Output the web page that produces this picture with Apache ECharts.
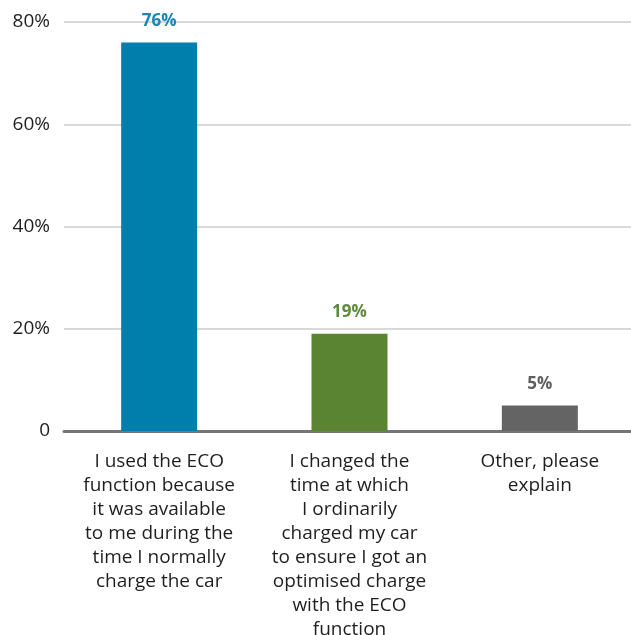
<!DOCTYPE html>
<html>
<head>
<meta charset="utf-8">
<script src="https://cdn.jsdelivr.net/npm/echarts@6/dist/echarts.min.js"></script>
<style>
  html, body { margin: 0; padding: 0; background: #fff; }
  #chart { width: 631px; height: 635px; }
</style>
</head>
<body>
<div id="chart"></div>
<script>
// Reasons for using the ECO charging function (share of respondents)
const categories = [
  'I used the ECO\nfunction because\nit was available\nto me during the\ntime I normally\ncharge the car',
  'I changed the\ntime at which\nI ordinarily\ncharged my car\nto ensure I got an\noptimised charge\nwith the ECO\nfunction',
  'Other, please\nexplain'
];
const values = [76, 19, 5];
const barColors = ['#007FAD', '#5A8432', '#646464'];
const labelColors = ['#1A86B3', '#5E8A3A', '#5F5F5F'];
const yTicks = [0, 20, 40, 60, 80];

const font = '"Open Sans", Lato, sans-serif';

const chart = echarts.init(document.getElementById('chart'));
chart.setOption({
  animation: false,
  grid: {
    left: 64, right: -4, top: 22, bottom: 204,
    containLabel: false,
    outerBoundsMode: 'none'
  },
  xAxis: {
    type: 'category',
    data: categories,
    axisLine: { lineStyle: { color: '#767676', width: 3 } },
    axisTick: { show: false },
    axisLabel: {
      interval: 0,
      margin: 19,
      color: '#1f1f1f',
      fontFamily: font,
      fontSize: 19,
      lineHeight: 24
    }
  },
  yAxis: {
    type: 'value',
    min: yTicks[0],
    max: yTicks[yTicks.length - 1],
    interval: 20,
    axisLine: { show: false },
    axisTick: { show: false },
    splitLine: { lineStyle: { color: '#d9d9d9', width: 2 } },
    axisLabel: {
      margin: 14,
      color: '#1f1f1f',
      fontFamily: font,
      fontSize: 19,
      formatter: v => (v === 0 ? '0' : v + '%')
    }
  },
  series: [{
    type: 'bar',
    barWidth: 76,
    data: values.map((v, i) => ({
      value: v,
      itemStyle: { color: barColors[i] },
      label: { color: labelColors[i] }
    })),
    label: {
      show: true,
      position: 'top',
      distance: 13,
      fontFamily: font,
      fontSize: 17,
      fontWeight: 'bold',
      formatter: p => p.value + '%'
    }
  }]
});
</script>
</body>
</html>
